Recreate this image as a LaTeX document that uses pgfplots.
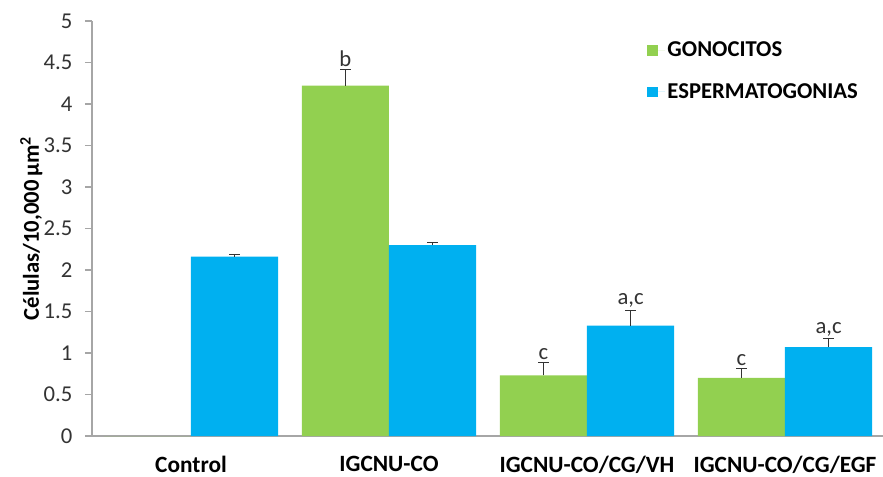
\documentclass[border=0pt]{standalone}
\usepackage{pgfplots}
\pgfplotsset{compat=1.18}
\usepackage{fontspec}
\setmainfont{Carlito}
\definecolor{gg}{HTML}{92D050}
\definecolor{bb}{HTML}{00B0F0}
\definecolor{axgray}{HTML}{A6A6A6}
\definecolor{tickc}{HTML}{333333}
\begin{document}
\begin{tikzpicture}
\useasboundingbox (-69pt,-30pt) rectangle (593.25pt,327pt);
\begin{axis}[
  at={(0,0)}, anchor=south west,
  scale only axis, width=594pt, height=311.25pt,
  xmin=-0.5, xmax=3.5, ymin=0, ymax=5,
  axis x line*=bottom, axis y line*=left,
  axis line style={axgray, line width=0.8pt},
  ytick={0,0.5,...,5},
  yticklabels={0,0.5,1,1.5,2,2.5,3,3.5,4,4.5,5},
  ytick style={axgray, line width=0.8pt},
  tick align=outside, major tick length=5.25pt,
  yticklabel style={font=\fontsize{17}{20}\selectfont, text=tickc, xshift=-6pt},
  /pgf/number format/assume math mode=true,
  xtick={0,1,2,3},
  xticklabels={Control,IGCNU-CO,IGCNU-CO/CG/VH,IGCNU-CO/CG/EGF},
  xtick style={draw=none},
  xticklabel style={font=\fontsize{17.5}{20}\selectfont\bfseries, text=black, yshift=-6pt},
  ylabel={\bfseries Células/10,000\,µm\textsuperscript{2}},
  ylabel style={font=\fontsize{17}{20}\selectfont, yshift=-6pt},
  ybar, bar width=0.44,
  legend style={draw=none, fill=none, at={(0.696,0.963)}, anchor=north west,
    font=\fontsize{17}{20}\selectfont\bfseries, row sep=14.5pt, cells={anchor=west}},
  legend image code/.code={\fill[#1] (0pt,-4pt) rectangle (8pt,4pt); \path (0pt,0pt) -- (13pt,0pt);},
  error bars/y dir=plus, error bars/y explicit,
  error bars/error bar style={tickc, line width=0.8pt},
  error bars/error mark options={rotate=90, mark size=4pt, tickc, line width=0.8pt},
]
\addplot[fill=gg, draw=none, bar shift=-0.22] coordinates {
  (0,0) (1,4.22) +- (0,0.20) (2,0.73) +- (0,0.15) (3,0.70) +- (0,0.11)};
\addplot[fill=bb, draw=none, bar shift=0.22] coordinates {
  (0,2.16) +- (0,0.03) (1,2.30) +- (0,0.03) (2,1.33) +- (0,0.18) (3,1.07) +- (0,0.10)};
\legend{GONOCITOS,ESPERMATOGONIAS}
\node[font=\fontsize{17}{20}\selectfont, text=tickc, anchor=south, inner sep=2pt] at (axis cs:0.78,4.42) {b};
\node[font=\fontsize{17}{20}\selectfont, text=tickc, anchor=south, inner sep=2pt] at (axis cs:1.78,0.88) {c};
\node[font=\fontsize{17}{20}\selectfont, text=tickc, anchor=south, inner sep=2pt] at (axis cs:2.22,1.51) {a,c};
\node[font=\fontsize{17}{20}\selectfont, text=tickc, anchor=south, inner sep=2pt] at (axis cs:2.78,0.81) {c};
\node[font=\fontsize{17}{20}\selectfont, text=tickc, anchor=south, inner sep=2pt] at (axis cs:3.22,1.17) {a,c};
\end{axis}
\end{tikzpicture}
\end{document}
